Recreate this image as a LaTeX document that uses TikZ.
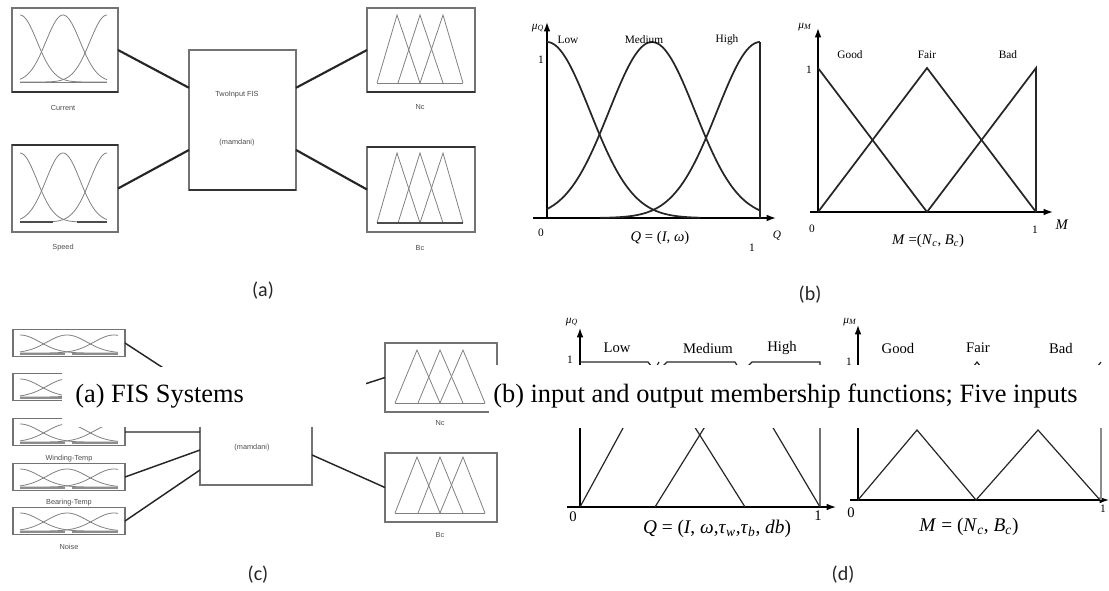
\documentclass[tikz,border=0pt]{standalone}
\usepackage{fontspec}
\setmainfont{Liberation Serif}
\newfontfamily\capfont{Carlito}
\newfontfamily\guifont{Liberation Sans}
\usetikzlibrary{arrows.meta,calc}
% gaussian membership curve: style, centre, sigma, base y, height, domain
\newcommand{\gaussmf}[6]{\draw[#1] plot[domain=#6, samples=60, smooth] (\x,{(#4)-(#5)*exp(-0.5*((\x-(#2))/(#3))*((\x-(#2))/(#3)))});}
% triangular membership curve: style, left, peak, right, base y, top y
\newcommand{\trimf}[6]{\draw[#1] (#2,#5) -- (#3,#6) -- (#4,#5);}

\begin{document}
\begin{tikzpicture}[x=0.75pt,y=-0.75pt,
  guibox/.style={draw=black!55, line width=1pt, inner sep=0pt, outer sep=0pt},
  wire/.style={line width=1.6pt, black!85},
  thinwire/.style={line width=1.1pt, black!85},
  mfgui/.style={black!50, line width=0.6pt},
  mfplot/.style={line width=1.3pt, black!85},
  mfthin/.style={line width=0.9pt, black!85},
  plotaxis/.style={line width=1.1pt, -{Latex[length=7pt,width=5pt]}},
  guitext/.style={font=\guifont\fontsize{5.5}{6}\selectfont, text=black!70},
  plottext/.style={font=\fontsize{8.5}{9}\selectfont},
  bigtext/.style={font=\fontsize{11}{12}\selectfont},
  formula/.style={font=\fontsize{14.5}{16}\selectfont},
  sublabel/.style={font=\capfont\fontsize{15}{17}\selectfont, text=black!85},
  capband/.style={fill=white, inner sep=0pt, outer sep=0pt, anchor=north west},
  captext/.style={font=\fontsize{19.8}{23}\selectfont, anchor=base west, inner sep=0pt}
]
\useasboundingbox (0,0) rectangle (1109,590);

% ---------- (a) two-input FIS ----------
\node[guibox, minimum width=79.5pt, minimum height=63pt] (cur) at (65,50) {};
\node[guibox, minimum width=79.5pt, minimum height=65.25pt] (spd) at (65,188.5) {};
\node[guibox, minimum width=80.25pt, minimum height=105pt] (fis) at (242.5,120) {};
\node[guibox, minimum width=81pt, minimum height=63pt] (nc) at (421,50) {};
\node[guibox, minimum width=81pt, minimum height=63.75pt] (bc) at (421,189.5) {};
\draw[line width=2pt, black!80] (cur.south west) -- (cur.south east);
\draw[line width=2pt, black!80] (spd.north west) -- (spd.north east);
\draw[line width=2pt, black!80] (fis.south west) -- (fis.south east);
\draw[line width=2pt, black!80] (nc.south west) -- (nc.south east);
\draw[line width=2pt, black!80] (bc.north west) -- (bc.north east);
% inputs
\foreach \yb/\yt in {82/15,222/153}{
  \gaussmf{mfgui}{20}{17}{\yb}{\yb-\yt}{20:107}
  \gaussmf{mfgui}{63}{17}{\yb}{\yb-\yt}{20:107}
  \gaussmf{mfgui}{107}{17}{\yb}{\yb-\yt}{20:107}
}
\draw[mfgui] (20,82) -- (107,82);
\draw[line width=1.4pt, black!70] (20,222) -- (53,222) (77,222) -- (107,222);
% outputs
\foreach \yb/\yt in {83/15,223/153}{
  \trimf{mfgui}{377}{397}{420}{\yb}{\yt}
  \trimf{mfgui}{398}{420}{443}{\yb}{\yt}
  \trimf{mfgui}{420}{443}{463}{\yb}{\yt}
}
\draw[mfgui] (377,83) -- (463,83);
\draw[line width=1.4pt, black!70] (377,223) -- (463,223);
% wires
\draw[wire] (cur.east) -- ($(fis.north west)!0.27!(fis.south west)$);
\draw[wire] (spd.east) -- ($(fis.north west)!0.714!(fis.south west)$);
\draw[wire] ($(fis.north east)!0.27!(fis.south east)$) -- (nc.west);
\draw[wire] ($(fis.north east)!0.714!(fis.south east)$) -- (bc.west);
\node[guitext] (curlbl) at (63,108) {Current};
\node[guitext] (spdlbl) at (63,248) {Speed};
\node[guitext] (ncl) at (420,107) {Nc};
\node[guitext] (bcl) at (420,248) {Bc};
\node[guitext] (fisname) at (237,95) {TwoInput FIS};
\node[guitext] (fistype) at (237,143) {(mamdani)};
\node[sublabel] (suba) at (263,291) {(a)};

% ---------- (b) gaussian and triangular functions ----------
\draw[plotaxis] (547,218) -- (547,22);
\draw[plotaxis] (533,218) -- (776,218);
\gaussmf{mfplot}{547}{43}{218}{176}{547:700}
\gaussmf{mfplot}{652}{43}{218}{176}{547:760}
\gaussmf{mfplot}{760}{43}{218}{176}{600:760}
\draw[mfplot] (760,42) -- (760,218);
\node[plottext] (muq) at (538,28) {\textit{μ}\textsubscript{\textit{Q}}};
\node[plottext] (bq1) at (541,60) {1};
\node[plottext] (blow) at (568,40) {Low};
\node[plottext] (bmed) at (644,40) {Medium};
\node[plottext] (bhigh) at (727,40) {High};
\node[plottext] (bq0) at (541,233) {0};
\node[plottext] (bq1r) at (752,248) {1};
\node[plottext] (bqx) at (777,236) {\textit{Q}};
\node[bigtext] (bqlbl) at (660,238) {\textit{Q} = (\textit{I}, \textit{ω})};

\draw[plotaxis] (818,212) -- (818,28);
\draw[plotaxis] (810,212) -- (1053,212);
\draw[mfplot] (818,68) -- (927,212);
\draw[mfplot] (818,212) -- (927,68) -- (1036,212);
\draw[mfplot] (927,212) -- (1036,68) -- (1036,212);
\node[plottext] (mum) at (805,27) {\textit{μ}\textsubscript{\textit{M}}};
\node[plottext] (bm1) at (809,70) {1};
\node[plottext] (bgood) at (850,55) {Good};
\node[plottext] (bfair) at (927,55) {Fair};
\node[plottext] (bbad) at (1008,55) {Bad};
\node[plottext] (bm0) at (812,229) {0};
\node[plottext] (bm1r) at (1035,230) {1};
\node[bigtext] (bmx) at (1062,225) {\textit{M}};
\node[bigtext] (bmlbl) at (928,241) {\textit{M} =(\textit{N}\textsubscript{\textit{c}}, \textit{B}\textsubscript{\textit{c}})};
\node[sublabel] (subb) at (810,295) {(b)};

% ---------- (c) five-input FIS ----------
\node[guibox, minimum width=84pt, minimum height=78.75pt] (cfis) at (256,432.5) {};
\foreach \yc/\nm in {343/c1,387/c2,432/c3,477/c4,521/c5}{
  \node[guibox, minimum width=84pt, minimum height=20.25pt] (\nm) at (69,\yc) {};
  \gaussmf{mfgui}{20}{20}{\yc+10}{18}{20:118}
  \gaussmf{mfgui}{67}{20}{\yc+10}{18}{20:118}
  \gaussmf{mfgui}{114}{20}{\yc+10}{18}{20:118}
  \draw[line width=1.3pt, black!45] (20,\yc+11) -- (65,\yc+11) (72,\yc+11) -- (118,\yc+11);
}
\foreach \nm/\f in {c1/0.114,c2/0.286,c3/0.495,c4/0.667,c5/0.857}{
  \draw[thinwire] (\nm.east) -- ($(cfis.north west)!\f!(cfis.south west)$);
}
\node[guibox, minimum width=84pt, minimum height=51.75pt] (cnc) at (441,377.5) {};
\node[guibox, minimum width=84pt, minimum height=51.75pt] (cbc) at (441,487.5) {};
\foreach \yb/\yt in {403/350,513/457}{
  \trimf{mfgui}{395}{417}{440}{\yb}{\yt}
  \trimf{mfgui}{418}{440}{463}{\yb}{\yt}
  \trimf{mfgui}{440}{463}{485}{\yb}{\yt}
  \draw[mfgui] (395,\yb) -- (485,\yb);
}
\draw[thinwire] ($(cfis.north east)!0.2!(cfis.south east)$) -- (cnc.west);
\draw[thinwire] ($(cfis.north east)!0.714!(cfis.south east)$) -- (cbc.west);
\node[guitext] (cwind) at (69,459) {Winding-Temp};
\node[guitext] (cbear) at (69,503) {Bearing-Temp};
\node[guitext] (cnoise) at (69,547) {Noise};
\node[guitext] (ctype) at (252,448) {(mamdani)};
\node[guitext] (cncl) at (440,423) {Nc};
\node[guitext] (cbcl) at (440,535) {Bc};
\node[sublabel] (subc) at (258,575) {(c)};

% ---------- (d) triangular functions, five inputs ----------
\draw[plotaxis, line width=1pt] (580,507) -- (580,328);
\draw[plotaxis, line width=1pt] (567,507) -- (836,507);
\draw[mfthin] (580,362) -- (648,362) -- (652,367);
\draw[mfthin] (662,367) -- (667,362) -- (735,362) -- (738,367);
\draw[mfthin] (747,367) -- (752,362) -- (820,362) -- (820,507);
\draw[mfthin] (580,507) -- (659,362);
\draw[mfthin] (655,507) -- (742,367);
\draw[mfthin] (745,507) -- (657,367);
\draw[mfthin] (820,507) -- (737,367);
\node[plottext] (muq2) at (572,322) {\textit{μ}\textsubscript{\textit{Q}}};
\node[plottext] (dq1) at (570,360) {1};
\node[bigtext] (dlow) at (617,348) {Low};
\node[bigtext] (dmed) at (708,348) {Medium};
\node[bigtext] (dhigh) at (782,348) {High};
\node[bigtext] (dq0) at (573,517) {0};
\node[bigtext] (dq1r) at (818,516) {1};
\node[formula] (dqlbl) at (717,529) {\textit{Q} = (\textit{I}, \textit{ω},\textit{τ}\textsubscript{\textit{w}},\textit{τ}\textsubscript{\textit{b}}, \textit{db})};

\draw[plotaxis, line width=1pt] (858,500) -- (858,325);
\draw[plotaxis, line width=1pt] (850,500) -- (1109,500);
\draw[mfthin] (858,500) -- (917,430) -- (976,500) -- (1038,430) -- (1100,500);
\draw[mfthin] (973,367) -- (977,362) -- (981,367);
\draw[mfthin] (1097,367) -- (1101,362);
\draw[line width=1.2pt, black!45] (1101,428) -- (1101,500);
\node[plottext] (mum2) at (850,322) {\textit{μ}\textsubscript{\textit{M}}};
\node[plottext] (dm1) at (849,362) {1};
\node[bigtext] (dgood) at (898,348) {Good};
\node[bigtext] (dfair) at (978,348) {Fair};
\node[bigtext] (dbad) at (1061,348) {Bad};
\node[bigtext] (dm0) at (851,513) {0};
\node[plottext] (dm1r) at (1103,509) {1};
\node[formula] (dmlbl) at (969,527) {\textit{M} = (\textit{N}\textsubscript{\textit{c}}, \textit{B}\textsubscript{\textit{c}})};
\node[sublabel] (subd) at (843,575) {(d)};

% ---------- caption bands on top ----------
\node[capband, minimum width=228pt, minimum height=45pt] (banda) at (62,367) {};
\node[captext] (capa) at (75,402) {(a) FIS Systems};
\node[capband, minimum width=459.75pt, minimum height=47.25pt] (bandb) at (489,365) {};
\node[captext] (capb) at (493,402) {(b) input and output membership functions; Five inputs};
\end{tikzpicture}
\end{document}
